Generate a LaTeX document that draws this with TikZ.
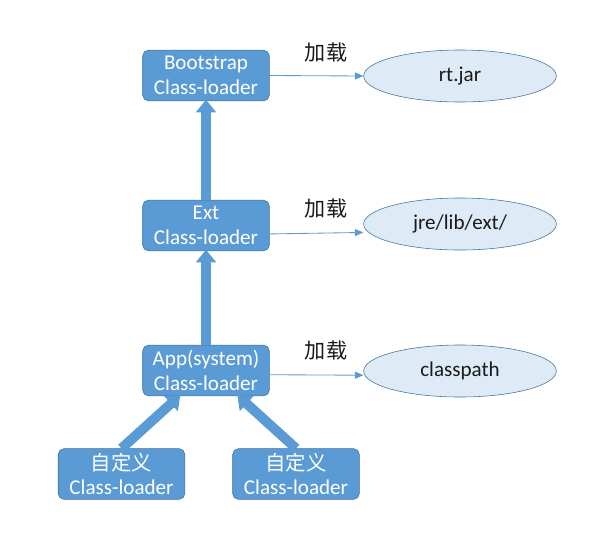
\documentclass[tikz,border=0pt]{standalone}
\usepackage{fontspec}
\setmainfont{Carlito}
\newfontfamily\cjkfont{Noto Sans CJK SC}
\usetikzlibrary{arrows.meta, shapes.geometric}
\def\cornerradius{4pt}
\def\boxdrawcolor{boxedge}
\def\boxfillcolor{boxblue}
\def\boxheight{36pt}
\def\boxwidth{90pt}
\def\placedrawcolor{boxedge}
\def\placefillcolor{placeblue}
\def\placeheight{37pt}
\def\placewidth{137pt}
\def\pushwidth{7pt}
\definecolor{boxblue}{HTML}{5B9BD5}
\definecolor{boxedge}{HTML}{41719C}
\definecolor{placeblue}{HTML}{DEEBF7}
\definecolor{textdark}{HTML}{1A1A1A}
\tikzset{
	% loader boxes
	loader/.style={
		draw=\boxdrawcolor,
		fill=\boxfillcolor,
		thin,
		text=white,
		font=\fontsize{15}{17.5}\selectfont,
		align=center,
		rounded corners=\cornerradius,
		shape=rectangle,
		minimum height=\boxheight,
		minimum width=\boxwidth,
		inner sep=0pt,
	},
	% load places
	place/.style={
		draw=\placedrawcolor,
		fill=\placefillcolor,
		thin,
		ellipse,
		text=textdark,
		font=\fontsize{15}{17.5}\selectfont,
		minimum height=\placeheight,
		minimum width=\placewidth,
		inner sep=0pt,
	},
	% labels
	label_load/.style={
		font=\cjkfont\fontsize{15}{17}\selectfont,
		text=textdark,
	},
	% delegation
	delegate/.style={
		draw=boxblue,
		line width=\pushwidth,
		-{Triangle[width=14pt, length=9pt]},
		shorten >=-1pt,
	},
	% loading
	loads/.style={
		draw=boxblue,
		semithick,
		-{Triangle[width=5pt, length=6pt]},
	}
}

\begin{document}
\begin{tikzpicture}[x=0.025cm, y=-0.025cm]
	\useasboundingbox (0,0) rectangle (602,540);
	% loaders
	\node[loader] (boot) at (206,75.5) {Bootstrap\\Class-loader};
	\node[loader] (ext) at (206,225.5) {Ext\\Class-loader};
	\node[loader] (app) at (206,370.5) {App(system)\\Class-loader};
	\node[loader] (user1) at (121.5,474) {{\cjkfont\fontsize{14.5}{17.5}\selectfont 自定义}\\Class-loader};
	\node[loader] (user2) at (296,474) {{\cjkfont\fontsize{14.5}{17.5}\selectfont 自定义}\\Class-loader};
	% places
	\node[place] (rt) at (460,76) {rt.jar};
	\node[place] (extdir) at (460,224) {jre/lib/ext/};
	\node[place] (cp) at (460,371) {classpath};
	% labels
	\node[label_load] (l1) at (326,52) {加载};
	\node[label_load] (l2) at (326,208) {加载};
	\node[label_load] (l3) at (326,350) {加载};
	% delegation
	\draw[delegate] (ext.north) -- (boot.south);
	\draw[delegate] (app.north) -- (ext.south);
	\draw[delegate] (user1.north) -- ([xshift=-19pt]app.south);
	\draw[delegate] (user2.north) -- ([xshift=23pt]app.south);
	% loading
	\draw[loads] (boot.east) -- (rt.west);
	\draw[loads] ([yshift=-6pt]ext.east) -- ([yshift=-6pt]extdir.west);
	\draw[loads] ([yshift=-3pt]app.east) -- ([yshift=-3pt]cp.west);
\end{tikzpicture}
\end{document}
